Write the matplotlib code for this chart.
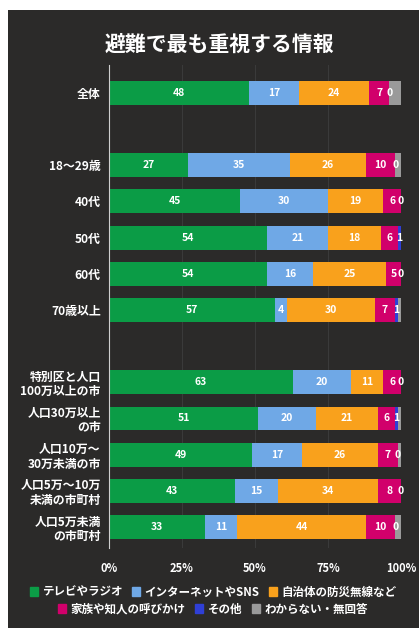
import matplotlib.pyplot as plt
from matplotlib.patches import Rectangle

plt.rcParams['font.family'] = ['Noto Sans CJK JP', 'DejaVu Sans']

# rows (top to bottom) and their slot positions
groups = ['全体', '18〜29歳', '40代', '50代', '60代', '70歳以上',
          '特別区と人口\n100万以上の市', '人口30万以上\nの市', '人口10万〜\n30万未満の市',
          '人口5万〜10万\n未満の市町村', '人口5万未満\nの市町村']
slots = [0, 2, 3, 4, 5, 6, 8, 9, 10, 11, 12]

series = ['テレビやラジオ', 'インターネットやSNS', '自治体の防災無線など',
          '家族や知人の呼びかけ', 'その他', 'わからない・無回答']
tv = [48, 27, 45, 54, 54, 57, 63, 51, 49, 43, 33]
net = [17, 35, 30, 21, 16, 4, 20, 20, 17, 15, 11]
local = [24, 26, 19, 18, 25, 30, 11, 21, 26, 34, 44]
family = [7, 10, 6, 6, 5, 7, 6, 6, 7, 8, 10]
other = [0, 0, 0, 1, 0, 1, 0, 1, 0, 0, 0]
unknown = [4, 2, 0, 0, 0, 1, 0, 1, 1, 0, 2]

colors = ['#0b9c46', '#6fa8e6', '#f9a11c', '#d1006b', '#2f3fd6', '#9a9a9a']
bg = '#2b2a29'

fig = plt.figure(figsize=(4.19, 6.28), dpi=100, facecolor='white')
fig.patches.append(Rectangle((8 / 419, 0), 1, 1 - 10 / 628, transform=fig.transFigure,
                             facecolor=bg, edgecolor='none', zorder=-10))
ax = fig.add_axes([109 / 419, 1 - 548 / 628, (401 - 109) / 419, (548 - 65) / 628])
ax.set_facecolor(bg)

data = [tv, net, local, family, other, unknown]
left = [0] * len(groups)
for k, vals in enumerate(data):
    ax.barh(slots, vals, left=left, height=0.66, color=colors[k], zorder=2)
    if k < 5:
        for y, l, v in zip(slots, left, vals):
            ax.text(l + v / 2, y, str(v), color='white', fontsize=7.5, fontweight='bold',
                    ha='center', va='center', zorder=3)
    left = [a + b for a, b in zip(left, vals)]

ax.set_xlim(0, 100)
ax.set_ylim(12.58, -0.77)
ax.set_yticks(slots)
ax.set_yticklabels(groups, color='white', fontsize=8.6, fontweight='bold', linespacing=1.15)
ax.set_xticks([0, 25, 50, 75, 100])
ax.set_xticklabels(['0%', '25%', '50%', '75%', '100%'], color='white', fontsize=8,
                   fontweight='bold')
ax.tick_params(length=0, pad=6)
ax.tick_params(axis='x', pad=10)
ax.grid(axis='x', color='#3a3a3a', linewidth=0.8, zorder=1)
for s in ['top', 'right', 'bottom']:
    ax.spines[s].set_visible(False)
ax.spines['left'].set_color('#cfcfcf')
ax.spines['left'].set_linewidth(0.8)
ax.spines['left'].set_zorder(4)

fig.text(219 / 419, 1 - 44 / 628, '避難で最も重視する情報', color='white', fontsize=15,
         fontweight='bold', ha='center', va='center')

handles = [Rectangle((0, 0), 1, 1, color=c) for c in colors]
for row, yc in [([0, 1, 2], 592), ([3, 4, 5], 609)]:
    leg = fig.legend([handles[i] for i in row], [series[i] for i in row], ncol=3,
                     loc='center', bbox_to_anchor=(213 / 419, 1 - yc / 628), frameon=False,
                     fontsize=8.3, handlelength=0.7, handleheight=0.7, handletextpad=0.4,
                     columnspacing=0.8, borderpad=0)
    for t in leg.get_texts():
        t.set_color('white')
        t.set_fontweight('bold')

fig.savefig('out.png', dpi=100, facecolor=fig.get_facecolor())
